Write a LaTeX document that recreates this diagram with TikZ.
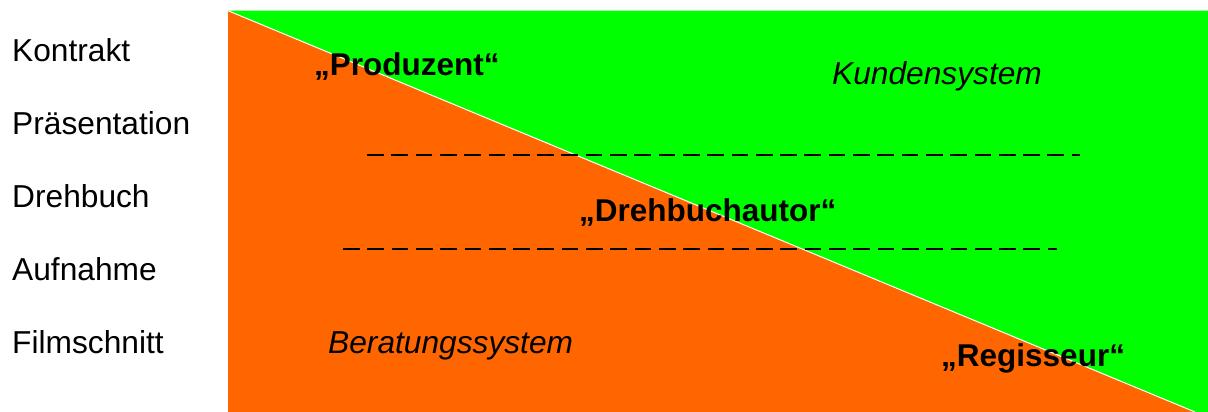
\documentclass[tikz,border=0pt]{standalone}
\usepackage{fontspec}
\setmainfont{Liberation Sans}
\definecolor{kgreen}{HTML}{00FF00}
\definecolor{borange}{HTML}{FF6600}
\tikzset{
  rowlbl/.style={anchor=base west, inner sep=0pt, font=\fontsize{31.7}{38}\selectfont},
  rolelbl/.style={anchor=base west, inner sep=0pt, font=\fontsize{31.5}{38}\selectfont\bfseries},
  syslbl/.style={anchor=base west, inner sep=0pt, font=\fontsize{31.7}{38}\selectfont\itshape},
  sepline/.style={line width=1.5pt, dash pattern=on 16.7pt off 7.6pt},
}
\begin{document}
\begin{tikzpicture}[x=1pt,y=-1pt]
\useasboundingbox (0,0) rectangle (1208,412);
% areas
\fill[borange] (228,10.7) -- (1195,412) -- (228,412) -- cycle;
\fill[kgreen] (228,10.7) -- (1208,10.7) -- (1208,412) -- (1195,412) -- cycle;
\draw[white, line width=1pt] (228,10.7) -- (1195,412);
% left labels
\node[rowlbl] (kontrakt) at (12,61.5) {Kontrakt};
\node[rowlbl] (praes) at (12,134.5) {Präsentation};
\node[rowlbl] (drehbuch) at (12,207.5) {Drehbuch};
\node[rowlbl] (aufnahme) at (12,280.5) {Aufnahme};
\node[rowlbl] (schnitt) at (12,353.5) {Filmschnitt};
% roles
\node[rolelbl] (produzent) at (314,75.5) {„Produzent“};
\node[rolelbl] (autor) at (579,221) {„Drehbuchautor“};
\node[rolelbl] (regisseur) at (941,366.5) {„Regisseur“};
% systems
\node[syslbl] (kunde) at (832,84.5) {Kundensystem};
\node[syslbl] (beratung) at (328,353.5) {Beratungssystem};
% dashed separators
\coordinate (d1a) at (367,155);
\coordinate (d1b) at (1080,155);
\coordinate (d2a) at (343,249);
\coordinate (d2b) at (1057,249);
\draw[sepline] (d1a) -- (d1b);
\draw[sepline] (d2a) -- (d2b);
\end{tikzpicture}
\end{document}
